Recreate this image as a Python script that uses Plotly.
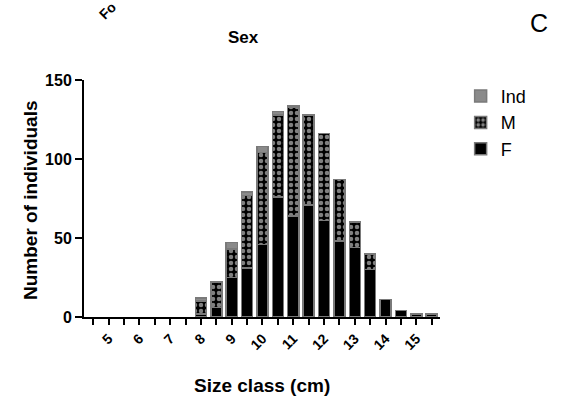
import plotly.graph_objects as go

# Data
sizes = [8.0, 8.5, 9.0, 9.5, 10.0, 10.5, 11.0, 11.5, 12.0, 12.5, 13.0, 13.5, 14.0, 14.5, 15.0, 15.5]
F = [2, 6, 25, 31, 46, 76, 64, 71, 61, 48, 44, 30, 11, 4, 2, 2]
M = [8, 16, 18, 46, 58, 52, 69, 57, 55, 39, 16, 10, 0, 0, 0, 0]
Ind = [2, 0, 4, 2, 4, 2, 1, 0, 0, 0, 0, 0, 0, 0, 0, 0]

tick_positions = [4.5 + 0.5 * i for i in range(23)]
tick_labels = [str(int(v)) if v == int(v) else "" for v in tick_positions]
y_ticks = [0, 50, 100, 150]

FONT = "Arial, Liberation Sans, sans-serif"
OUTLINE = dict(color="#7a7a7a", width=1.5)
BW = 0.36

fig = go.Figure()
fig.add_trace(go.Bar(x=sizes, y=F, name="F", width=BW,
                     marker=dict(color="black", line=OUTLINE)))
fig.add_trace(go.Bar(x=sizes, y=M, name="M", width=BW,
                     marker=dict(color="black", line=OUTLINE,
                                 pattern=dict(shape=".", fgcolor="white", bgcolor="black",
                                              size=6, solidity=0.45))))
fig.add_trace(go.Bar(x=sizes, y=Ind, name="Ind", width=BW,
                     marker=dict(color="#8a8a8a", line=OUTLINE)))

def ann(text, px, py, size, angle=0):
    # px, py: pixel position on the 565x405 canvas (plot area 84..440 x 80..317)
    return dict(text=text, x=(px - 84) / 356, y=(317 - py) / 237, xref="paper", yref="paper",
                xanchor="center", yanchor="middle", showarrow=False, textangle=angle,
                font=dict(size=size, family=FONT))

fig.update_layout(
    barmode="stack",
    width=565, height=405,
    margin=dict(l=84, r=125, t=80, b=88),
    paper_bgcolor="white", plot_bgcolor="white",
    font=dict(family=FONT, color="black"),
    showlegend=True,
    legend=dict(traceorder="reversed", x=1.058, y=1.009, xanchor="left", yanchor="top",
                font=dict(size=18, family=FONT), bgcolor="rgba(0,0,0,0)"),
    xaxis=dict(range=[4.198, 15.77], tickmode="array", tickvals=tick_positions,
               ticktext=tick_labels, tickangle=-45, ticks="outside", ticklen=6,
               tickwidth=2, tickcolor="black", showline=True, linecolor="black",
               linewidth=2, showgrid=False, zeroline=False,
               tickfont=dict(size=14, family=FONT, weight="bold")),
    yaxis=dict(range=[0, 150], tickmode="array", tickvals=y_ticks, ticks="outside",
               ticklen=7, tickwidth=2, tickcolor="black", showline=True,
               linecolor="black", linewidth=2, showgrid=False, zeroline=False,
               tickfont=dict(size=16, family=FONT, weight="bold")),
    annotations=[
        ann("<b>Sex</b>", 243, 37, 17),
        ann("C", 539, 23, 25),
        ann("<b>Fo</b>", 107, 11, 14, -45),
        ann("<b>Size class (cm)</b>", 262, 385, 19),
        ann("<b>Number of individuals</b>", 30, 200, 19, -90),
    ],
)

fig.write_html("out.html", config={"displayModeBar": False},
               post_script="document.body.style.margin='0';")
